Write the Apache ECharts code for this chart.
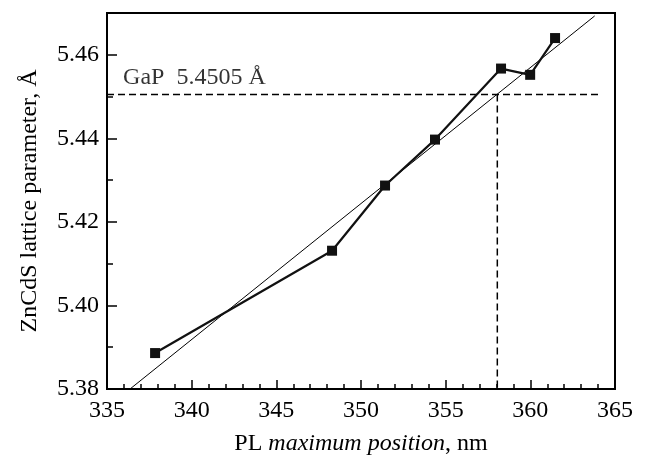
<!DOCTYPE html>
<html>
<head>
<meta charset="utf-8">
<script src="https://cdn.jsdelivr.net/npm/echarts@6/dist/echarts.min.js"></script>
<style>
html,body{margin:0;padding:0;background:#fff;}
#c{width:648px;height:456px;}
</style>
</head>
<body>
<div id="c"></div>
<script>
// Data
var plPosition = [337.84, 348.29, 351.42, 354.37, 358.27, 359.99, 361.46];
var latticeParam = [5.3886, 5.4131, 5.4287, 5.4397, 5.4567, 5.4552, 5.4640];
var fitX = [336.36, 363.8];
var fitY = [5.38, 5.4693];
var gapValue = 5.4505;
var gapCrossX = 358.05;
var gapLineEndX = 364.1;
var gapLabel = 'GaP  5.4505 Å';
var gapLabelPos = [335.95, 5.4545];
var xTickLabels = [335, 340, 345, 350, 355, 360, 365];
var yTickLabels = [5.38, 5.40, 5.42, 5.44, 5.46];

var FONT = '"Liberation Serif", "Times New Roman", serif';
var chart = echarts.init(document.getElementById('c'), null, {renderer: 'canvas'});

function zip(a, b) { return a.map(function (v, i) { return [v, b[i]]; }); }

chart.setOption({
  animation: false,
  backgroundColor: '#fff',
  grid: {left: 107, right: 33, top: 13, bottom: 67, containLabel: false, outerBoundsMode: 'none',
    show: true, borderColor: '#000', borderWidth: 2, backgroundColor: 'transparent'},
  xAxis: {
    type: 'value', min: 335, max: 365, interval: 5,
    name: '{n|PL }{i|maximum position}{n|, nm}',
    nameLocation: 'middle', nameGap: 43,
    nameTextStyle: {rich: {n: {fontFamily: FONT, fontSize: 24, color: '#000'}, i: {fontFamily: FONT, fontSize: 24, fontStyle: 'italic', color: '#000'}}},
    axisLine: {show: true, lineStyle: {color: '#000', width: 2}},
    axisTick: {show: true, inside: true, length: 9, lineStyle: {color: '#000', width: 1.5}},
    minorTick: {show: true, splitNumber: 5, length: 5, lineStyle: {color: '#000', width: 1.5}},
    splitLine: {show: false},
    axisLabel: {fontFamily: FONT, fontSize: 24, color: '#000', margin: 10,
      formatter: function (v) { return xTickLabels.indexOf(Math.round(v)) >= 0 ? String(Math.round(v)) : ''; }}
  },
  yAxis: {
    type: 'value', min: 5.38, max: 5.47, interval: 0.02,
    name: 'ZnCdS lattice parameter, Å',
    nameLocation: 'middle', nameGap: 65,
    nameTextStyle: {fontFamily: FONT, fontSize: 24, color: '#000'},
    axisLine: {show: true, lineStyle: {color: '#000', width: 2}},
    axisTick: {show: true, inside: true, length: 10, lineStyle: {color: '#000', width: 1.5}},
    minorTick: {show: true, splitNumber: 2, length: 6, lineStyle: {color: '#000', width: 1.5}},
    splitLine: {show: false},
    axisLabel: {fontFamily: FONT, fontSize: 24, color: '#000', margin: 8, showMaxLabel: false,
      formatter: function (v) {
        for (var i = 0; i < yTickLabels.length; i++) {
          if (Math.abs(yTickLabels[i] - v) < 1e-6) return yTickLabels[i].toFixed(2);
        }
        return '';
      }}
  },
  series: [
    {
      type: 'line', data: zip(fitX, fitY), symbol: 'none',
      lineStyle: {color: '#000', width: 1}, z: 2
    },
    {
      type: 'line', data: [[335, gapValue], [gapLineEndX, gapValue]], symbol: 'none',
      lineStyle: {color: '#000', width: 1.5, type: [7, 4]}, z: 2
    },
    {
      type: 'line', data: [[gapCrossX, gapValue], [gapCrossX, 5.38]], symbol: 'none',
      lineStyle: {color: '#000', width: 1.5, type: [7, 4]}, z: 2
    },
    {
      type: 'line', data: zip(plPosition, latticeParam),
      symbol: 'rect', symbolSize: 10, showAllSymbol: true,
      itemStyle: {color: '#111'},
      lineStyle: {color: '#111', width: 2.2}, z: 3
    },
    {
      type: 'scatter', data: [gapLabelPos], symbolSize: 1,
      itemStyle: {color: 'rgba(0,0,0,0)'},
      label: {show: true, position: 'inside', align: 'left', verticalAlign: 'middle',
        formatter: gapLabel, fontFamily: FONT, fontSize: 24, color: '#000'},
      z: 4
    }
  ]
});
</script>
</body>
</html>
